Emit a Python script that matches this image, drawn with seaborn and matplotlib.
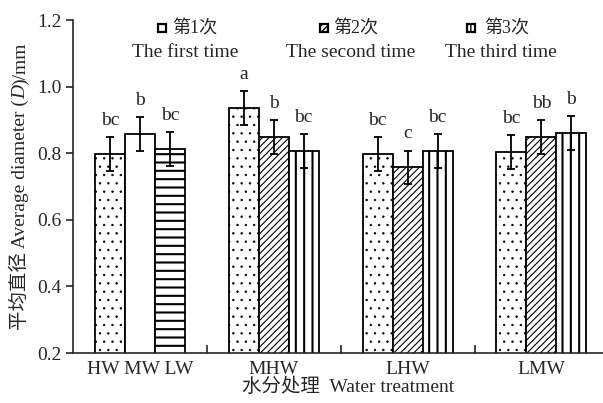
import matplotlib
matplotlib.use('Agg')
import matplotlib.pyplot as plt
from matplotlib.patches import Rectangle
import seaborn as sns
import pandas as pd

# values
groups = ['HW MW LW', 'MHW', 'LHW', 'LMW']
times = ['第1次', '第2次', '第3次']
times_en = ['The first time', 'The second time', 'The third time']
first = [0.798, 0.936, 0.798, 0.804]
second = [0.858, 0.849, 0.758, 0.849]
third = [0.813, 0.807, 0.807, 0.861]
err1 = [0.05, 0.05, 0.05, 0.05]
err2 = [0.05, 0.05, 0.05, 0.05]
err3 = [0.05, 0.05, 0.05, 0.05]
letters1 = ['bc', 'a', 'bc', 'bc']
letters2 = ['b', 'b', 'c', 'bb']
letters3 = ['bc', 'bc', 'bc', 'b']

df = pd.DataFrame({
    'group': groups * 3,
    'time': [t for t in times for _ in groups],
    'value': first + second + third,
})
errs = [err1, err2, err3]
letters = [letters1, letters2, letters3]

sns.set_style('ticks')
plt.rcParams['font.family'] = ['Liberation Serif', 'Noto Sans CJK SC']
plt.rcParams['hatch.linewidth'] = 1.2


def hatch_lw(p, lw):
    if hasattr(p, 'set_hatch_linewidth'):
        p.set_hatch_linewidth(lw)
    else:
        p._hatch_linewidth = lw


fig = plt.figure(figsize=(6.03, 4.03), dpi=100)
ax = fig.add_axes([0.121, 0.124, 0.879, 0.826])

sns.barplot(data=df, x='group', y='value', hue='time', hue_order=times,
            order=groups, width=0.672, gap=0, errorbar=None, legend=False,
            palette=['white'] * 3, edgecolor='black', linewidth=1.3, ax=ax)

hatches = ['..', '/////', '||']
first_group = ['..', '', '--']
hatch_widths = {'..': 0.5, '/////': 0.8, '||': 1.5, '--': 1.5, '': 1.0}
bar_sets = list(ax.containers)
for k, cont in enumerate(bar_sets):
    for i, bar in enumerate(cont.patches):
        h = first_group[k] if i == 0 else hatches[k]
        bar.set_facecolor('white')
        bar.set_edgecolor('black')
        bar.set_hatch(h)
        hatch_lw(bar, hatch_widths[h])
        xc = bar.get_x() + bar.get_width() / 2
        top = bar.get_height()
        ax.errorbar(xc, top, yerr=errs[k][i], color='black', capsize=3,
                    elinewidth=1.3, capthick=1.3, fmt='none', zorder=5)
        ax.annotate(letters[k][i], (xc, top + errs[k][i]), xytext=(0, 9),
                    textcoords='offset points', ha='center', va='baseline',
                    fontsize=14)

# legend drawn as small boxes plus two-line text
leg_hatch = ['', '/////', '||']
box_x = [0.161, 0.466, 0.743]
cn_x = [0.187, 0.491, 0.775]
en_x = [0.211, 0.523, 0.808]
for k in range(3):
    box = Rectangle((box_x[k], 0.963), 0.015, 0.024, transform=ax.transAxes,
                    facecolor='white', edgecolor='black', hatch=leg_hatch[k],
                    linewidth=1.6, clip_on=False)
    hatch_lw(box, 1.0)
    ax.add_patch(box)
    ax.text(cn_x[k], 0.975, times[k], transform=ax.transAxes, ha='left',
            va='center', fontsize=13)
    ax.text(en_x[k], 0.904, times_en[k], transform=ax.transAxes, ha='center',
            va='center', fontsize=14)

ax.set_ylim(0.2, 1.2)
ax.set_xlim(-0.5, 3.46)
ax.set_yticks([0.2, 0.4, 0.6, 0.8, 1.0, 1.2])
ax.set_yticklabels(['0.2', '0.4', '0.6', '0.8', '1.0', '1.2'], fontsize=14)
ax.set_xticks(range(len(groups)))
ax.set_xticklabels(groups, fontsize=14)
ax.tick_params(axis='x', which='major', length=0, pad=6)
ax.set_xticks([0.5, 1.5, 2.5], minor=True)
ax.tick_params(axis='x', which='minor', direction='in', length=6, width=1.2)
ax.tick_params(axis='y', direction='out', length=5, width=1.2, pad=3)
ax.set_xlabel('水分处理  Water treatment', fontsize=14)
ax.xaxis.set_label_coords(0.52, -0.075)
ax.set_ylabel('')
sns.despine(ax=ax)
for s in ['left', 'bottom']:
    ax.spines[s].set_linewidth(1.2)

# y label in pieces so that D can be italic while CJK glyphs still fall back
pieces = [('平均直径 Average diameter (', 'normal'), ('D', 'italic'), (')/mm', 'normal')]
fig.canvas.draw()
renderer = fig.canvas.get_renderer()
texts = []
for s, st in pieces:
    t = fig.text(0.042, 0, s, rotation=90, rotation_mode='anchor', ha='left',
                 va='baseline', fontsize=14, style=st)
    texts.append(t)
lengths = [t.get_window_extent(renderer).height for t in texts]
fig_h = fig.get_figheight() * fig.dpi
# pieces run bottom to top, centred on the axes
y_bottom = fig_h - (186 + sum(lengths) / 2)
for t, L in zip(texts, lengths):
    t.set_y(y_bottom / fig_h)
    y_bottom += L

fig.savefig('out.png', dpi=100)
